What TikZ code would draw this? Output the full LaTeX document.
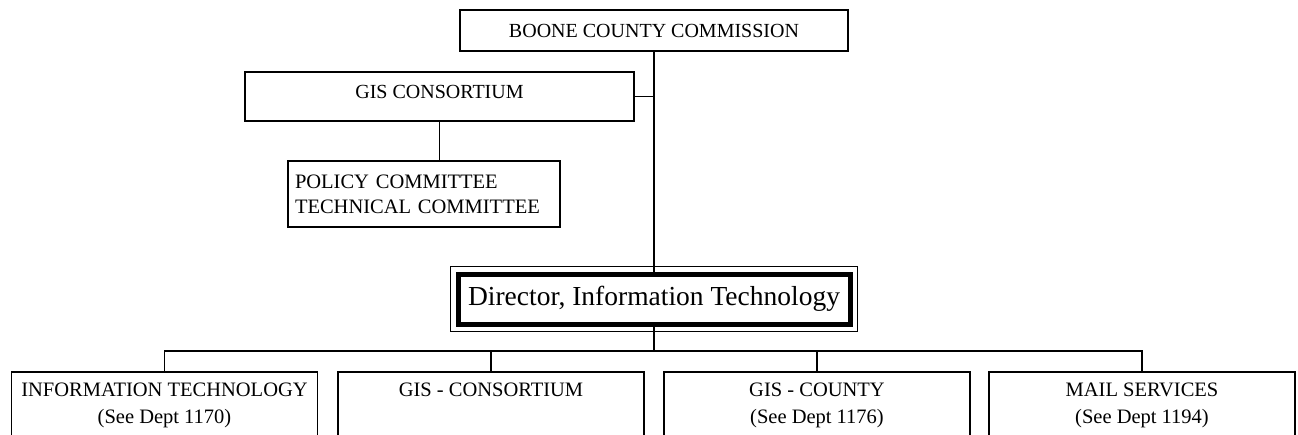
\documentclass[tikz,border=0pt]{standalone}
\usepackage{fontspec}
\setmainfont{Liberation Serif}
\usetikzlibrary{positioning}

\tikzset{
  orgbox/.style={draw, line width=1.5pt, inner sep=0pt, font=\fontsize{20}{25}\selectfont},
  deptbox/.style={draw, line width=1.5pt, anchor=north, minimum width=306pt, minimum height=90pt},
  depttext/.style={anchor=north, align=center, inner sep=0pt, font=\fontsize{20.5}{27}\selectfont},
  link/.style={line width=1.5pt}
}

\begin{document}
\begin{tikzpicture}[x=1pt,y=-1pt]
  \useasboundingbox (0,0) rectangle (1298,434);
  \clip (0,0) rectangle (1298,434);
  \node (bcc) [orgbox, minimum width=388pt, minimum height=41pt] at (654,30.5) {BOONE COUNTY COMMISSION};
  \node (gis) [orgbox, minimum width=389pt, minimum height=49pt, text depth=9pt] at (439.5,96.5) {GIS CONSORTIUM};
  \node (pol) [orgbox, text width=258pt, inner xsep=7pt, align=left, minimum height=66pt,
    font=\fontsize{20.5}{25}\selectfont] at (424,194)
    {POLICY COMMITTEE\\TECHNICAL COMMITTEE};
  \node (dir) [draw, line width=5pt, minimum width=392pt, minimum height=50pt,
    font=\fontsize{27.5}{32}\selectfont] at (654,299) {Director, Information Technology};
  \draw[link] ([shift={(-5pt,5pt)}]dir.north west) rectangle ([shift={(5pt,-5pt)}]dir.south east);

  \node (it) [deptbox] at (164.5,371) {};
  \node (ittext) [depttext, below=12pt of it.north] {INFORMATION TECHNOLOGY\\(See Dept 1170)};
  \node (gisc) [deptbox] at (491,371) {};
  \node (gisctext) [depttext, below=12pt of gisc.north] {GIS - CONSORTIUM};
  \node (cty) [deptbox] at (817,371) {};
  \node (ctytext) [depttext, below=12pt of cty.north] {GIS - COUNTY\\(See Dept 1176)};
  \node (mail) [deptbox] at (1142,371) {};
  \node (mailtext) [depttext, below=12pt of mail.north] {MAIL SERVICES\\(See Dept 1194)};

  \draw[link] (bcc.south) -- (dir.north);
  \draw[link] (gis.east) -- (gis.east -| bcc.south);
  \draw[link] (gis.south) -- (gis.south |- pol.north);

  \coordinate (bus) at (654,351);
  \draw[link] (dir.south) -- (bus);
  \draw[link] (it.north) |- (bus) -| (mail.north);
  \draw[link] (gisc.north) -- (gisc.north |- bus);
  \draw[link] (cty.north) -- (cty.north |- bus);
\end{tikzpicture}
\end{document}
